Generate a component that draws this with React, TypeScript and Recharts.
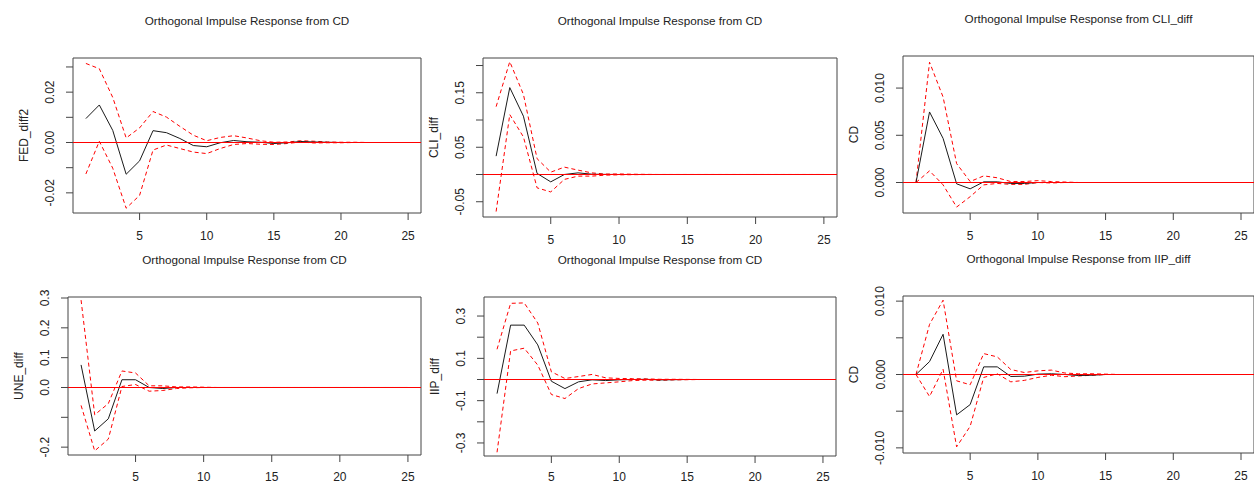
import React from 'react';
import { LineChart, Line, XAxis, YAxis, ReferenceLine, ReferenceArea } from 'recharts';

// ---------- data ----------
const horizons = [1, 2, 3, 4, 5, 6, 7, 8, 9, 10, 11, 12, 13, 14, 15, 16, 17, 18, 19, 20, 21, 22, 23, 24, 25];
const xTicks = [5, 10, 15, 20, 25];

// Panel 1: CD -> FED_diff2
const fedResp = [0.0095, 0.0149, 0.0048, -0.0126, -0.0073, 0.0047, 0.0039, 0.0016, -0.0012, -0.0017, -0.0001, 0.0008, 0.0003, 0.0001, -0.0004, -0.0001, 0.0004, 0.0002, 0.0001, 0, 0, 0, 0, 0, 0];
const fedUpper = [0.0314, 0.0293, 0.0179, 0.0018, 0.0058, 0.0123, 0.0101, 0.0064, 0.0029, 0.0007, 0.002, 0.0027, 0.0018, 0.0007, 0.0001, 0.0002, 0.0007, 0.0005, 0.0002, 0.0001, 0.0001, 0, 0, 0, 0];
const fedLower = [-0.0125, 0.0005, -0.0102, -0.0261, -0.021, -0.003, -0.001, -0.0024, -0.0038, -0.0044, -0.0024, -0.0008, -0.0004, -0.0007, -0.0008, -0.0004, 0.0002, -0.0002, -0.0001, -0.0001, 0, 0, 0, 0, 0];
const fedTicks = [-0.02, -0.01, 0, 0.01, 0.02, 0.03];
const fedTickLabels = ['-0.02', '', '0.00', '', '0.02', ''];

// Panel 2: CD -> CLI_diff
const cliResp = [0.0337, 0.1595, 0.107, 0.002, -0.0135, 0.0, 0.003, 0.0006, 0.0002, 0, 0, 0, 0, 0, 0, 0, 0, 0, 0, 0, 0, 0, 0, 0, 0];
const cliUpper = [0.1245, 0.207, 0.147, 0.029, 0.0043, 0.0135, 0.008, 0.003, 0.0008, 0.001, 0.0005, 0.0002, 0, 0, 0, 0, 0, 0, 0, 0, 0, 0, 0, 0, 0];
const cliLower = [-0.068, 0.11, 0.069, -0.0245, -0.032, -0.009, -0.003, -0.003, -0.0012, -0.0006, -0.0003, -0.0001, 0, 0, 0, 0, 0, 0, 0, 0, 0, 0, 0, 0, 0];
const cliTicks = [-0.05, 0, 0.05, 0.1, 0.15, 0.2];
const cliTickLabels = ['-0.05', '', '0.05', '', '0.15', ''];

// Panel 3: CLI_diff -> CD
const cdCliResp = [0, 0.00747, 0.00467, -0.00014, -0.00067, 0.00007, 0.00007, -0.0001, -0.0001, 0, 0, 0, 0, 0, 0, 0, 0, 0, 0, 0, 0, 0, 0, 0, 0];
const cdCliUpper = [0, 0.01274, 0.00905, 0.002, 0.0001, 0.0007, 0.0005, 0.0001, 0.0001, 0.0002, 0.0001, 0.00005, 0, 0, 0, 0, 0, 0, 0, 0, 0, 0, 0, 0, 0];
const cdCliLower = [0, 0.00123, -0.00025, -0.0026, -0.0015, -0.00025, -0.0001, -0.0002, -0.0002, 0, -0.00005, 0, 0, 0, 0, 0, 0, 0, 0, 0, 0, 0, 0, 0, 0];
const cdCliTicks = [0, 0.005, 0.01];
const cdCliTickLabels = ['0.000', '0.005', '0.010'];

// Panel 4: CD -> UNE_diff
const uneResp = [0.0757, -0.1458, -0.105, 0.026, 0.026, 0.0, -0.0034, 0.0, 0.0, 0, 0, 0, 0, 0, 0, 0, 0, 0, 0, 0, 0, 0, 0, 0, 0];
const uneUpper = [0.293, -0.0915, -0.054, 0.0554, 0.0486, 0.0056, 0.0056, 0.002, 0.002, 0.001, 0, 0, 0, 0, 0, 0, 0, 0, 0, 0, 0, 0, 0, 0, 0];
const uneLower = [-0.06, -0.2124, -0.173, 0.0034, 0.01, -0.0124, -0.01, -0.0034, -0.001, 0, 0, 0, 0, 0, 0, 0, 0, 0, 0, 0, 0, 0, 0, 0, 0];
const uneTicks = [-0.2, -0.1, 0, 0.1, 0.2, 0.3];
const uneTickLabels = ['-0.2', '', '0.0', '0.1', '0.2', '0.3'];

// Panel 5: CD -> IIP_diff
const iipResp = [-0.0667, 0.257, 0.257, 0.1635, -0.008, -0.043, -0.011, -0.0016, -0.005, -0.0016, 0, 0.001, -0.002, -0.001, 0, 0, 0, 0, 0, 0, 0, 0, 0, 0, 0];
const iipUpper = [0.143, 0.36, 0.362, 0.267, 0.0365, 0.0048, 0.014, 0.024, 0.008, 0.005, 0.004, 0.003, 0.001, 0.001, 0.0005, 0, 0, 0, 0, 0, 0, 0, 0, 0, 0];
const iipLower = [-0.344, 0.135, 0.148, 0.068, -0.071, -0.09, -0.043, -0.021, -0.016, -0.011, -0.005, -0.003, -0.004, -0.002, -0.001, 0, 0, 0, 0, 0, 0, 0, 0, 0, 0];
const iipTicks = [-0.3, -0.2, -0.1, 0, 0.1, 0.2, 0.3];
const iipTickLabels = ['-0.3', '', '-0.1', '', '0.1', '', '0.3'];

// Panel 6: IIP_diff -> CD
const cdIipResp = [0, 0.00176, 0.00548, -0.0055, -0.0041, 0.00104, 0.00104, -0.00027, -0.00023, 0.00005, 0.0001, 0, -0.00014, -0.0001, 0, 0, 0, 0, 0, 0, 0, 0, 0, 0, 0];
const cdIipUpper = [0, 0.00683, 0.01013, -0.00086, -0.0014, 0.00285, 0.0024, 0.00068, 0.00027, 0.0005, 0.0006, 0.0002, 0.0001, 0.0001, 0.00005, 0, 0, 0, 0, 0, 0, 0, 0, 0, 0];
const cdIipLower = [0, -0.003, 0.00072, -0.00986, -0.00706, -0.0004, 0.0001, -0.001, -0.0008, -0.0004, -0.0001, -0.0003, -0.0002, -0.0001, 0, 0, 0, 0, 0, 0, 0, 0, 0, 0, 0];
const cdIipTicks = [-0.01, -0.005, 0, 0.005, 0.01];
const cdIipTickLabels = ['-0.010', '', '0.000', '', '0.010'];

const titles = [
  'Orthogonal Impulse Response from CD',
  'Orthogonal Impulse Response from CD',
  'Orthogonal Impulse Response from CLI_diff',
  'Orthogonal Impulse Response from CD',
  'Orthogonal Impulse Response from CD',
  'Orthogonal Impulse Response from IIP_diff',
];
const yLabels = ['FED_diff2', 'CLI_diff', 'CD', 'UNE_diff', 'IIP_diff', 'CD'];

// ---------- layout / styles ----------
const FONT = '"Liberation Sans", Arial, Helvetica, sans-serif';
const TEXT = '#222';
const AXIS = '#444';
const X_DOMAIN: [number, number] = [0.04, 25.96];
const ML = 62;
const MT = 10;
const MB = 34;
const MR = 2;

type PanelProps = {
  left: number;
  top: number;
  width: number;
  height: number;
  domain: [number, number];
  ticks: number[];
  tickLabels: string[];
  title: string;
  ylab: string;
  resp: number[];
  upper: number[];
  lower: number[];
  xLabOffset: number;
};

function Panel(p: PanelProps) {
  const data = horizons.map((h, i) => ({ h, resp: p.resp[i], upper: p.upper[i], lower: p.lower[i] }));
  const plotBottom = MT + p.height;

  const XTick = (props: any) => {
    const { x, payload } = props;
    return (
      <text x={x} y={plotBottom + p.xLabOffset} textAnchor="middle" dominantBaseline="central"
        style={{ fontFamily: FONT, fontSize: 12, fill: TEXT }}>
        {payload.value}
      </text>
    );
  };

  const YTick = (props: any) => {
    const { y, payload } = props;
    const idx = p.ticks.findIndex((t) => Math.abs(t - payload.value) < 1e-9);
    const lab = idx >= 0 ? p.tickLabels[idx] : '';
    if (!lab) return <g />;
    const cx = ML - 22.5;
    return (
      <text x={cx} y={y} transform={`rotate(-90, ${cx}, ${y})`} textAnchor="middle" dominantBaseline="central"
        style={{ fontFamily: FONT, fontSize: 12, fill: TEXT }}>
        {lab}
      </text>
    );
  };

  const YLab = () => {
    const cx = ML - 49.5;
    const cy = MT + p.height / 2;
    return (
      <text x={cx} y={cy} transform={`rotate(-90, ${cx}, ${cy})`} textAnchor="middle" dominantBaseline="central"
        style={{ fontFamily: FONT, fontSize: 12, fill: TEXT }}>
        {p.ylab}
      </text>
    );
  };

  return (
    <div style={{ position: 'absolute', left: p.left - ML, top: p.top - MT }}>
      <div style={{
        position: 'absolute', left: ML, width: p.width, top: MT - 37 - 8, height: 16, lineHeight: '16px',
        textAlign: 'center', fontFamily: FONT, fontSize: 11.7, color: TEXT, whiteSpace: 'nowrap',
      }}>
        {p.title}
      </div>
      <LineChart width={p.width + ML + MR} height={p.height + MT + MB} data={data}
        margin={{ top: MT, right: MR, bottom: 0, left: 0 }}>
        <XAxis dataKey="h" type="number" domain={X_DOMAIN} ticks={xTicks} interval={0} height={MB}
          axisLine={false} tickLine={{ stroke: AXIS }} stroke={AXIS} tickSize={7} tick={<XTick />} allowDataOverflow />
        <YAxis type="number" domain={p.domain} ticks={p.ticks} interval={0} width={ML}
          axisLine={false} tickLine={{ stroke: AXIS }} stroke={AXIS} tickSize={7} tick={<YTick />} allowDataOverflow
          label={<YLab />} />
        <ReferenceArea x1={X_DOMAIN[0]} x2={X_DOMAIN[1]} y1={p.domain[0]} y2={p.domain[1]}
          fill="none" fillOpacity={0} stroke={AXIS} strokeWidth={1} ifOverflow="visible" />
        <Line dataKey="upper" type="linear" stroke="#ff0000" strokeWidth={1} strokeDasharray="4 3" dot={false} isAnimationActive={false} />
        <Line dataKey="lower" type="linear" stroke="#ff0000" strokeWidth={1} strokeDasharray="4 3" dot={false} isAnimationActive={false} />
        <Line dataKey="resp" type="linear" stroke="#1a1a1a" strokeWidth={1} dot={false} isAnimationActive={false} />
        <ReferenceLine y={0} stroke="#ff0000" strokeWidth={1.2} ifOverflow="hidden" />
      </LineChart>
    </div>
  );
}

export default function App() {
  return (
    <div style={{ position: 'absolute', left: 0, top: 0, width: 1254, height: 484, background: '#fff', overflow: 'hidden' }}>
      <Panel left={73} top={58} width={348} height={155} domain={[-0.028, 0.03356]} xLabOffset={23}
        ticks={fedTicks} tickLabels={fedTickLabels} title={titles[0]} ylab={yLabels[0]}
        resp={fedResp} upper={fedUpper} lower={fedLower} />
      <Panel left={483} top={58} width={354} height={159} domain={[-0.078, 0.2138]} xLabOffset={23}
        ticks={cliTicks} tickLabels={cliTickLabels} title={titles[1]} ylab={yLabels[1]}
        resp={cliResp} upper={cliUpper} lower={cliLower} />
      <Panel left={903} top={56} width={351} height={157} domain={[-0.00323, 0.013397]} xLabOffset={23}
        ticks={cdCliTicks} tickLabels={cdCliTickLabels} title={titles[2]} ylab={yLabels[2]}
        resp={cdCliResp} upper={cdCliUpper} lower={cdCliLower} />
      <Panel left={68} top={297} width={353} height={158} domain={[-0.2263, 0.3034]} xLabOffset={21.5}
        ticks={uneTicks} tickLabels={uneTickLabels} title={titles[3]} ylab={yLabels[3]}
        resp={uneResp} upper={uneUpper} lower={uneLower} />
      <Panel left={484} top={297} width={352} height={159} domain={[-0.3616, 0.39]} xLabOffset={20.5}
        ticks={iipTicks} tickLabels={iipTickLabels} title={titles[4]} ylab={yLabels[4]}
        resp={iipResp} upper={iipUpper} lower={iipLower} />
      <Panel left={903} top={296} width={351} height={157} domain={[-0.0107, 0.0107]} xLabOffset={22.5}
        ticks={cdIipTicks} tickLabels={cdIipTickLabels} title={titles[5]} ylab={yLabels[5]}
        resp={cdIipResp} upper={cdIipUpper} lower={cdIipLower} />
    </div>
  );
}
